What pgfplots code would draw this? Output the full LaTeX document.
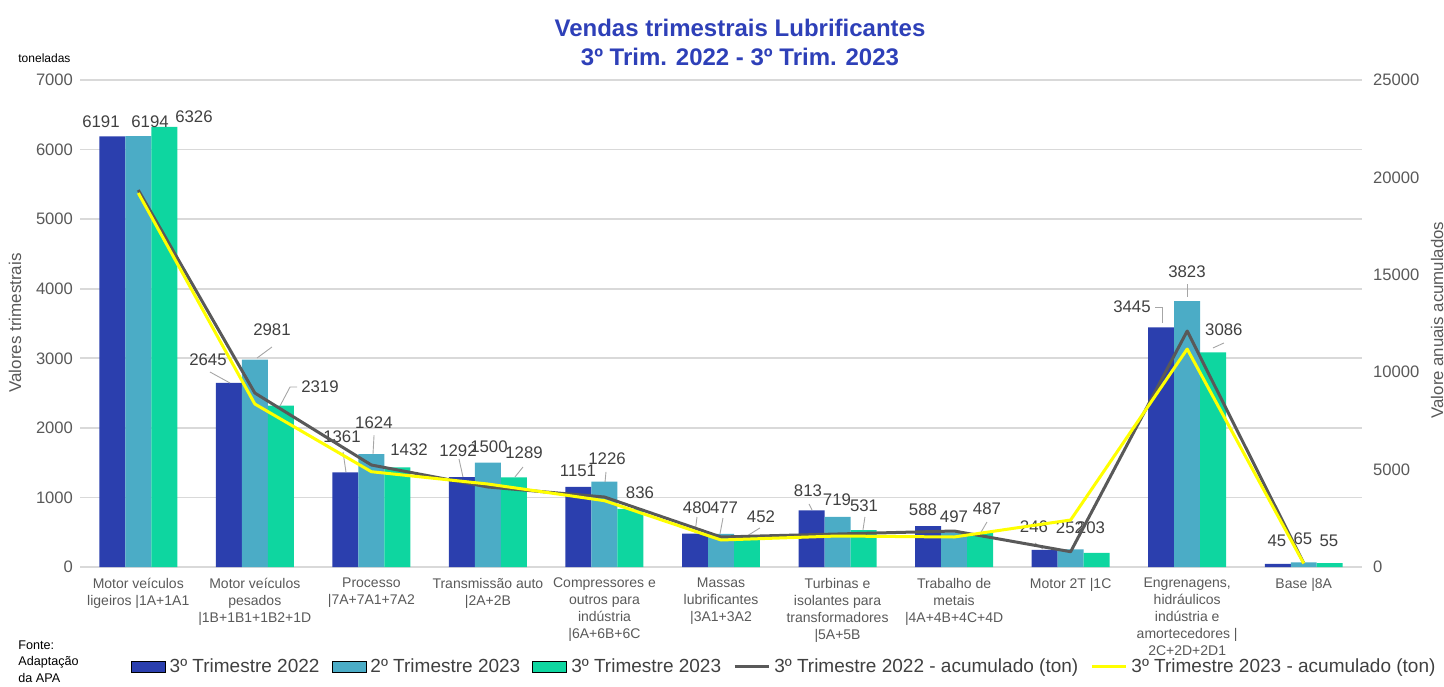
\documentclass[border=0pt]{standalone}
\usepackage{pgfplots}
\pgfplotsset{compat=1.18}
\usepackage{pgfplotstable}
\usepackage{fontspec}
\setmainfont{Liberation Sans}
\definecolor{cA}{HTML}{2B3FAE}
\definecolor{cB}{HTML}{4BACC6}
\definecolor{cC}{HTML}{0ED6A0}
\definecolor{cG}{HTML}{595959}
\definecolor{cY}{HTML}{FFFF00}
\definecolor{titleblue}{HTML}{2E40B8}
\definecolor{txt}{HTML}{404040}
\definecolor{tickc}{HTML}{595959}
\definecolor{gridc}{HTML}{D9D9D9}
\definecolor{leadc}{HTML}{A6A6A6}

% quarterly sales (t)
\pgfplotstableread{
x q322 q223 q323
0 6191 6194 6326
1 2645 2981 2319
2 1361 1624 1432
3 1292 1500 1289
4 1151 1226 836
5 480 477 452
6 813 719 531
7 588 497 487
8 246 252 203
9 3445 3823 3086
10 45 65 55
}\bars

% data label positions
\pgfplotstableread{
lx ly lab
-0.320 6396 6191
0.101 6396 6194
0.478 6468 6326
0.598 2975 2645
1.147 3407 2981
1.559 2587 2319
1.748 1869 1361
2.022 2070 1624
2.323 1682 1432
2.743 1667 1292
3.009 1725 1500
3.310 1639 1289
3.773 1380 1151
4.022 1552 1226
4.305 1064 836
4.794 848 480
5.026 848 477
5.343 719 452
5.746 1092 813
5.995 963 719
6.227 877 531
6.733 819 588
6.999 719 497
7.282 834 487
7.685 575 246
7.994 561 252
8.174 561 203
8.526 3737 3445
8.998 4240 3823
9.315 3407 3086
9.770 374 45
9.993 402 65
10.216 374 55
}\labels

\pgfplotsset{leader/.style={draw=leadc, line width=0.45pt, forget plot, mark=none}}

\begin{document}
\begin{tikzpicture}
\useasboundingbox (0,0) rectangle (722pt,343pt);
\begin{axis}[
  at={(40pt,59.5pt)}, anchor=south west, scale only axis,
  width=641pt, height=243.5pt,
  xmin=-0.5, xmax=10.5, ymin=0, ymax=7000,
  ytick={0,1000,...,7000},
  xtick={0,...,10},
  xticklabels={
    {Motor veículos\\ligeiros |1A+1A1},
    {Motor veículos\\pesados\\|1B+1B1+1B2+1D},
    {Processo\\|7A+7A1+7A2},
    {Transmissão auto\\|2A+2B},
    {Compressores e\\outros para\\indústria\\|6A+6B+6C},
    {Massas\\lubrificantes\\|3A1+3A2},
    {Turbinas e\\isolantes para\\transformadores\\|5A+5B},
    {Trabalho de\\metais\\|4A+4B+4C+4D},
    {Motor 2T |1C},
    {Engrenagens,\\hidráulicos\\indústria e\\amortecedores |\\2C+2D+2D1},
    {Base |8A}},
  xticklabel style={font=\fontsize{7}{8.5}\selectfont, text=tickc, align=center, anchor=north, yshift=-2pt},
  yticklabel style={font=\fontsize{8.3}{10}\selectfont, text=tickc},
  /pgf/number format/assume math mode=true,
  /pgf/number format/1000 sep={},
  axis line style={draw=none},
  major tick length=0pt,
  ymajorgrids, grid style={gridc, line width=0.8pt},
  clip=false,
]
\addplot[ybar, bar width=0.223, bar shift=-0.223, fill=cA, draw=none] table[x=x,y=q322] {\bars};
\addplot[ybar, bar width=0.223, bar shift=0, fill=cB, draw=none] table[x=x,y=q223] {\bars};
\addplot[ybar, bar width=0.223, bar shift=0.223, fill=cC, draw=none] table[x=x,y=q323] {\bars};
% leader lines of the data labels
\addplot[leader] coordinates {(0.615,2803) (0.787,2645)};
\addplot[leader] coordinates {(1.019,3004) (1.147,3162)};
\addplot[leader] coordinates {(1.216,2314) (1.302,2587) (1.362,2587)};
\addplot[leader] coordinates {(1.782,1366) (1.757,1653)};
\addplot[leader] coordinates {(2.014,1624) (2.023,1897)};
\addplot[leader] coordinates {(2.786,1294) (2.752,1552)};
\addplot[leader] coordinates {(3.232,1294) (3.301,1437)};
\addplot[leader] coordinates {(4.005,1222) (4.013,1366)};
\addplot[leader] coordinates {(4.777,489) (4.794,719)};
\addplot[leader] coordinates {(4.991,474) (5.017,704)};
\addplot[leader] coordinates {(5.223,446) (5.334,561)};
\addplot[leader] coordinates {(5.781,819) (5.755,906)};
\addplot[leader] coordinates {(6.218,532) (6.235,719)};
\addplot[leader] coordinates {(7.222,474) (7.282,647)};
\addplot[leader] coordinates {(7.762,259) (7.694,345)};
\addplot[leader] coordinates {(8.784,3507) (8.784,3737) (8.724,3737)};
\addplot[leader] coordinates {(8.998,3881) (8.998,4068)};
\addplot[leader] coordinates {(9.221,3148) (9.315,3220)};
\addplot[draw=none, mark=none, nodes near coords, point meta=explicit symbolic,
  every node near coord/.style={anchor=center, inner sep=0pt, font=\fontsize{8.4}{10}\selectfont, text=txt}]
  table[x=lx, y=ly, meta=lab] {\labels};
\end{axis}
\begin{axis}[
  at={(40pt,59.5pt)}, anchor=south west, scale only axis,
  width=641pt, height=243.5pt,
  xmin=-0.5, xmax=10.5, ymin=0, ymax=25000,
  ytick={0,5000,...,25000},
  scaled y ticks=false,
  hide x axis,
  axis y line*=right,
  axis line style={draw=none},
  major tick length=0pt,
  yticklabel style={font=\fontsize{8.3}{10}\selectfont, text=tickc, xshift=2pt},
  /pgf/number format/assume math mode=true,
  /pgf/number format/1000 sep={},
  legend style={at={(0.55,-0.205)}, anchor=center, draw=none, fill=none,
    font=\fontsize{9.5}{11}\selectfont, text=txt,
    /tikz/every even column/.append style={column sep=4pt}},
  legend columns=-1,
  legend cell align=left,
  clip=false,
]
\addlegendimage{area legend, fill=cA, draw=none}
\addlegendentry{3º Trimestre 2022}
\addlegendimage{area legend, fill=cB, draw=none}
\addlegendentry{2º Trimestre 2023}
\addlegendimage{area legend, fill=cC, draw=none}
\addlegendentry{3º Trimestre 2023}
\addplot[cG, line width=1.5pt, line join=round] coordinates {(0,19353) (1,8932) (2,5236) (3,4107) (4,3593) (5,1540) (6,1694) (7,1848) (8,785) (9,12115) (10,200)};
\addlegendentry{3º Trimestre 2022 - acumulado (ton)}
\addplot[cY, line width=1.5pt, line join=round] coordinates {(0,19199) (1,8368) (2,4892) (3,4260) (4,3404) (5,1386) (6,1591) (7,1540) (8,2413) (9,11191) (10,180)};
\addlegendentry{3º Trimestre 2023 - acumulado (ton)}
\end{axis}
\node[font=\bfseries\fontsize{12}{14.5}\selectfont, text=titleblue, align=center] at (370pt,321.75pt) {Vendas trimestrais Lubrificantes\\3º Trim. 2022 - 3º Trim. 2023};
\node[anchor=west, font=\fontsize{6}{7}\selectfont, inner sep=0pt] at (9pt,314pt) {toneladas};
\node[rotate=90, font=\fontsize{8.5}{10}\selectfont, text=tickc] at (7.5pt,181.5pt) {Valores trimestrais};
\node[rotate=90, font=\fontsize{8.4}{10}\selectfont, text=tickc] at (718.5pt,183pt) {Valore anuais acumulados};
\node[anchor=north west, align=left, font=\fontsize{6.3}{8.4}\selectfont, inner sep=0pt] at (9pt,23pt) {Fonte:\\Adaptação\\da APA};
\end{tikzpicture}
\end{document}
